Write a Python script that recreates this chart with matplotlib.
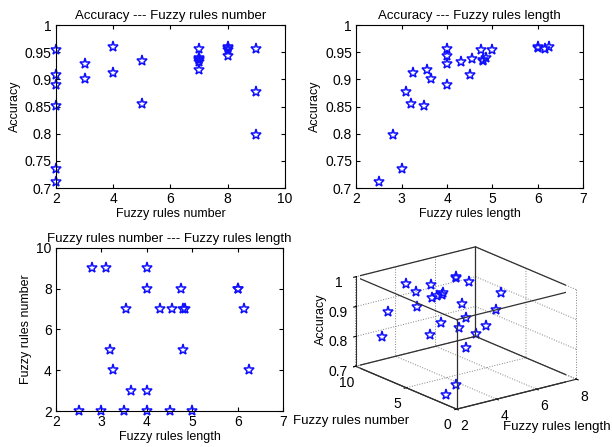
import matplotlib
matplotlib.use('Agg')
import matplotlib.pyplot as plt
from matplotlib.ticker import FuncFormatter
import numpy as np

plt.rcParams['font.family'] = ['Liberation Sans', 'DejaVu Sans']
plt.rcParams['font.size'] = 9

# datos: numero de reglas, longitud de reglas, exactitud
num_reglas = [2, 2, 2, 2, 2, 2, 3, 3, 4, 4, 5, 5, 7, 7, 7, 7, 7, 7, 8, 8, 8, 8, 9, 9, 9]
long_reglas = [2.5, 3.0, 3.5, 4.0, 4.5, 5.0, 3.65, 4.0, 3.25, 6.25, 3.2, 4.8,
               3.55, 4.3, 4.55, 4.85, 6.15, 4.8, 4.0, 4.75, 6.0, 6.0, 2.8, 3.1, 4.0]
exactitud = [0.711, 0.735, 0.852, 0.889, 0.908, 0.955, 0.901, 0.929, 0.911, 0.960,
             0.855, 0.934, 0.917, 0.932, 0.937, 0.940, 0.956, 0.935, 0.943, 0.955,
             0.960, 0.957, 0.798, 0.877, 0.956]

azul = '#1010ff'
estilo = dict(marker='*', linestyle='none', markersize=8, markerfacecolor='none',
              markeredgecolor=azul, markeredgewidth=1.1)
fmt = FuncFormatter(lambda v, p: '%g' % round(v, 3))


def ejes_matlab(ax):
    ax.tick_params(direction='in', top=True, right=True, length=3, pad=3, labelsize=10)
    for s in ax.spines.values():
        s.set_linewidth(0.8)


fig = plt.figure(figsize=(6.12, 4.47), dpi=100)

# 1
ax1 = fig.add_axes([0.0915, 0.579, 0.374, 0.365])
ax1.plot(num_reglas, exactitud, clip_on=False, **estilo)
ax1.set_xlim(2, 10)
ax1.set_ylim(0.7, 1)
ax1.set_yticks(np.arange(0.7, 1.001, 0.05))
ax1.yaxis.set_major_formatter(fmt)
ax1.set_title('Accuracy --- Fuzzy rules number', fontsize=9.5, pad=4)
ax1.set_xlabel('Fuzzy rules number', labelpad=1)
ax1.set_ylabel('Accuracy', labelpad=3)
ejes_matlab(ax1)

# 2
ax2 = fig.add_axes([0.582, 0.579, 0.371, 0.365])
ax2.plot(long_reglas, exactitud, clip_on=False, **estilo)
ax2.set_xlim(2, 7)
ax2.set_ylim(0.7, 1)
ax2.set_yticks(np.arange(0.7, 1.001, 0.05))
ax2.yaxis.set_major_formatter(fmt)
ax2.set_title('Accuracy --- Fuzzy rules length', fontsize=9.5, pad=4)
ax2.set_xlabel('Fuzzy rules length', labelpad=1)
ax2.set_ylabel('Accuracy', labelpad=3)
ejes_matlab(ax2)

# 3
ax3 = fig.add_axes([0.0915, 0.0805, 0.371, 0.365])
ax3.plot(long_reglas, num_reglas, clip_on=False, **estilo)
ax3.set_xlim(2, 7)
ax3.set_ylim(2, 10)
ax3.set_title('Fuzzy rules number --- Fuzzy rules length', fontsize=9.5, pad=4)
ax3.set_xlabel('Fuzzy rules length', labelpad=1)
ax3.set_ylabel('Fuzzy rules number', labelpad=3)
ejes_matlab(ax3)

# 4 (3D)
ax4 = fig.add_axes([0.547, 0.03, 0.42, 0.46], projection='3d', proj_type='ortho')
ax4.plot(long_reglas, num_reglas, exactitud, **estilo)
ax4.set_xlim(2, 8)
ax4.set_ylim(0, 10)
ax4.set_zlim(0.7, 1)
ax4.set_xticks([2, 4, 6, 8])
ax4.set_yticks([0, 5, 10])
ax4.set_zticks([0.7, 0.8, 0.9, 1])
ax4.zaxis.set_major_formatter(fmt)
ax4.view_init(elev=19, azim=-127.5)
ax4.set_box_aspect((0.91, 1, 0.57), zoom=1.15)
ax4.zaxis.set_rotate_label(False)
ax4.set_zlabel('Accuracy', rotation=90, labelpad=-9)
for eje in (ax4.xaxis, ax4.yaxis, ax4.zaxis):
    eje.set_pane_color((1, 1, 1, 0))
    eje.pane.set_edgecolor('#303030')
    eje._axinfo['grid'].update(color='#808080', linestyle=':', linewidth=0.7)
    eje.line.set_color('#303030')
ax4.tick_params(pad=-2, labelsize=10)

# caja completa a partir de los limites
x0, x1 = ax4.get_xlim()
y0, y1 = ax4.get_ylim()
z0, z1 = ax4.get_zlim()
for xa in (x0, x1):
    for ya in (y0, y1):
        ax4.plot([xa, xa], [ya, ya], [z0, z1], color='#303030', lw=0.9)
for za in (z0, z1):
    ax4.plot([x0, x1], [y0, y0], [za, za], color='#303030', lw=0.9)
    ax4.plot([x0, x1], [y1, y1], [za, za], color='#303030', lw=0.9)
    ax4.plot([x0, x0], [y0, y1], [za, za], color='#303030', lw=0.9)
    ax4.plot([x1, x1], [y0, y1], [za, za], color='#303030', lw=0.9)
ax4.set_xlim(x0, x1)
ax4.set_ylim(y0, y1)
ax4.set_zlim(z0, z1)

fig.text(0.997, 0.045, 'Fuzzy rules length', ha='right', va='center', fontsize=9.5)
fig.text(0.478, 0.058, 'Fuzzy rules number', ha='left', va='center', fontsize=9.5)

fig.savefig('out.png', dpi=100)
